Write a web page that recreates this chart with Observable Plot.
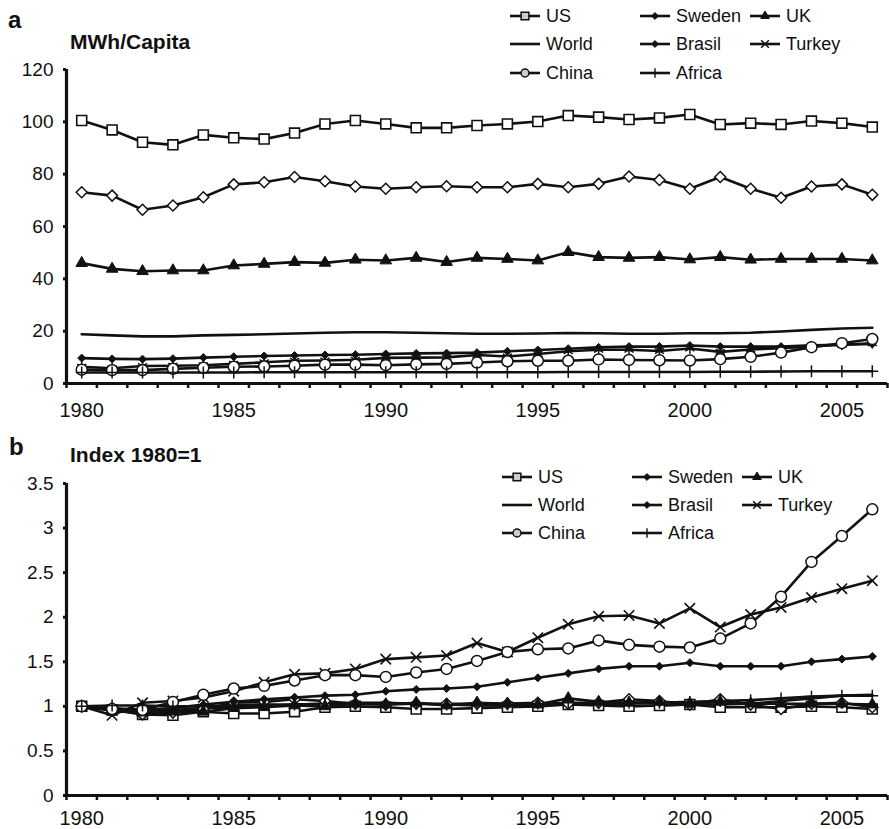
<!DOCTYPE html>
<html><head><meta charset="utf-8">
<script src="https://cdn.jsdelivr.net/npm/d3@7"></script>
<script src="https://cdn.jsdelivr.net/npm/@observablehq/plot@0.6"></script>
<style>
body{margin:0;background:#fff;}
#wrap{position:relative;width:889px;height:829px;overflow:hidden;font-family:"Liberation Sans",Arial,sans-serif;}
#wrap > svg{position:absolute;left:0;}
</style></head><body><div id="wrap"></div>
<script>
// ---------- data ----------
const years = [1980,1981,1982,1983,1984,1985,1986,1987,1988,1989,1990,1991,1992,1993,1994,1995,1996,1997,1998,1999,2000,2001,2002,2003,2004,2005,2006];
const labelYears = [1980,1985,1990,1995,2000,2005];
const seriesNames = ["US","Sweden","UK","World","Brasil","Turkey","China","Africa"];
const yTicksA = [0,20,40,60,80,100,120];
const yTicksB = [0,0.5,1,1.5,2,2.5,3,3.5];

// Panel a: MWh per capita
const usA     = [100.5,96.9,92.2,91.2,95.0,93.9,93.4,95.7,99.2,100.5,99.2,97.7,97.7,98.6,99.2,100.1,102.4,101.8,100.9,101.5,102.8,99.0,99.5,99.0,100.3,99.5,98.0];
const swedenA = [73.1,71.8,66.4,68.0,71.2,76.1,76.9,78.9,77.3,75.3,74.4,75.0,75.4,75.0,75.0,76.3,75.0,76.3,79.1,77.8,74.4,78.9,74.4,71.0,75.3,76.1,72.1];
const ukA     = [46.0,43.8,42.9,43.2,43.2,45.1,45.7,46.4,46.1,47.3,47.0,48.0,46.4,48.0,47.6,47.0,50.2,48.3,48.0,48.3,47.4,48.3,47.3,47.6,47.6,47.6,47.0];
const worldA  = [18.8,18.4,18.0,18.0,18.4,18.6,18.8,19.1,19.4,19.6,19.6,19.4,19.2,19.0,19.0,19.1,19.3,19.2,19.0,19.0,19.2,19.2,19.4,19.9,20.5,21.0,21.3];
const brasilA = [9.7,9.4,9.3,9.5,9.9,10.2,10.5,10.7,10.9,11.0,11.3,11.5,11.6,11.8,12.3,12.8,13.3,13.8,14.1,14.1,14.5,14.1,14.1,14.1,14.6,14.8,15.1];
const turkeyA = [6.4,5.8,6.7,6.8,7.0,7.5,8.1,8.7,8.8,9.1,9.8,9.9,10.0,10.9,10.3,11.3,12.3,12.9,12.9,12.4,13.4,12.1,13.0,13.5,14.2,14.8,15.4];
const chinaA  = [5.3,5.1,5.1,5.6,6.0,6.4,6.5,6.8,7.2,7.2,7.0,7.3,7.5,8.0,8.5,8.7,8.7,9.2,9.0,8.9,8.8,9.3,10.2,11.8,13.9,15.4,17.0];
const africaA = [4.2,4.2,4.2,4.2,4.2,4.2,4.3,4.3,4.3,4.3,4.3,4.3,4.3,4.3,4.3,4.3,4.4,4.4,4.4,4.4,4.4,4.5,4.5,4.6,4.7,4.7,4.7];

// Panel b: index 1980 = 1
const usB     = [1.00,0.96,0.91,0.90,0.94,0.92,0.92,0.94,0.99,1.00,0.99,0.97,0.97,0.98,0.99,1.00,1.02,1.01,1.00,1.01,1.02,0.99,0.99,0.99,1.00,0.99,0.97];
const swedenB = [1.00,0.98,0.91,0.93,0.97,1.04,1.05,1.08,1.06,1.03,1.02,1.03,1.03,1.03,1.03,1.04,1.03,1.04,1.08,1.06,1.02,1.08,1.02,0.97,1.03,1.04,0.99];
const ukB     = [1.00,0.95,0.93,0.94,0.94,0.98,0.99,1.01,1.00,1.03,1.02,1.04,1.01,1.04,1.03,1.02,1.09,1.05,1.04,1.05,1.03,1.05,1.03,1.03,1.03,1.03,1.02];
const worldB  = [1.00,0.98,0.96,0.96,0.98,0.99,1.00,1.02,1.03,1.04,1.04,1.03,1.02,1.01,1.01,1.02,1.03,1.02,1.01,1.01,1.02,1.02,1.03,1.06,1.09,1.12,1.13];
const brasilB = [1.00,0.97,0.96,0.98,1.02,1.05,1.08,1.10,1.12,1.13,1.17,1.19,1.20,1.22,1.27,1.32,1.37,1.42,1.45,1.45,1.49,1.45,1.45,1.45,1.50,1.53,1.56];
const turkeyB = [1.00,0.90,1.04,1.06,1.10,1.17,1.27,1.36,1.37,1.42,1.53,1.55,1.57,1.71,1.61,1.77,1.92,2.01,2.02,1.93,2.10,1.89,2.03,2.11,2.22,2.32,2.41];
const chinaB  = [1.00,0.97,0.96,1.05,1.13,1.20,1.23,1.29,1.35,1.35,1.33,1.38,1.42,1.51,1.61,1.64,1.65,1.74,1.69,1.67,1.66,1.76,1.93,2.23,2.62,2.91,3.21];
const africaB = [1.00,1.01,1.01,1.00,1.00,1.01,1.02,1.02,1.03,1.03,1.03,1.03,1.02,1.02,1.02,1.03,1.04,1.04,1.04,1.04,1.05,1.06,1.07,1.09,1.11,1.12,1.12];

// ---------- styles ----------
const INK = "#111";
const FONT = "'Liberation Sans', Arial, sans-serif";
const styleA = {
  US:{symbol:"square",r:5.6,fill:"white",sw:1.6},
  Sweden:{symbol:"diamond2",r:4.95,fill:"white",sw:1.5},
  UK:{symbol:"triangle",r:4.3,fill:INK,sw:1},
  World:null,
  Brasil:{symbol:"diamond2",r:3.6,fill:INK,sw:1},
  Turkey:{symbol:"asterisk",r:5.0,fill:"none",sw:1.5},
  China:{symbol:"circle",r:5.5,fill:"white",sw:1.5},
  Africa:{symbol:"plus",r:3.9,fill:"none",sw:1.5}
};
const styleB = Object.assign({}, styleA, {Turkey:{symbol:"times",r:4.8,fill:"none",sw:1.6}});

function tidy(arrs){
  const out = [];
  seriesNames.forEach((s,i)=>arrs[i].forEach((v,j)=>out.push({series:s,year:years[j],value:v})));
  return out;
}
const dataA = tidy([usA,swedenA,ukA,worldA,brasilA,turkeyA,chinaA,africaA]);
const dataB = tidy([usB,swedenB,ukB,worldB,brasilB,turkeyB,chinaB,africaB]);

const halfYears = years.map(y=>y-0.5).concat([years[years.length-1]+0.5]);

function panel(data, styles, yTicks, yDomain, height, mt, mb, xPad){
  const marks = [
    Plot.axisY({ticks:yTicks, tickSize:3, tickPadding:10, fontSize:19, strokeWidth:3, label:null, tickFormat:d=>String(d)}),
    Plot.axisX({ticks:halfYears, tickSize:5, strokeWidth:2.5, tickFormat:()=>"" , label:null}),
    Plot.axisX({ticks:labelYears, tickSize:0, tickPadding:xPad, fontSize:20, label:null, tickFormat:d=>String(d)}),
    Plot.ruleX([halfYears[0]], {y1:yDomain[0], y2:yDomain[1], stroke:INK, strokeWidth:3.2}),
    Plot.ruleY([0], {stroke:INK, strokeWidth:3.2}),
    Plot.line(data, {x:"year", y:"value", z:"series", stroke:INK, strokeWidth:2.6})
  ];
  seriesNames.forEach(s=>{
    const st = styles[s];
    if(!st) return;
    marks.push(Plot.dot(data.filter(d=>d.series===s), {x:"year", y:"value", symbol:st.symbol, r:st.r, fill:st.fill, stroke:INK, strokeWidth:st.sw}));
  });
  return Plot.plot({
    width:889, height, marginLeft:66, marginRight:2, marginTop:mt, marginBottom:mb,
    x:{domain:[halfYears[0], halfYears[halfYears.length-1]]},
    y:{domain:yDomain},
    style:{fontFamily:FONT, color:INK, background:"white", overflow:"visible"},
    marks
  });
}

const wrap = document.getElementById("wrap");
const svgA = panel(dataA, styleA, yTicksA, [0,120], 425, 69, 42, 19);
svgA.style.top = "0px";
wrap.appendChild(svgA);
const svgB = panel(dataB, styleB, yTicksB, [0,3.5], 404, 58, 34, 15);
svgB.style.top = "425px";
wrap.appendChild(svgB);

// ---------- overlay: panel letters, units, legends ----------
const ov = d3.select(wrap).append("svg").attr("width",889).attr("height",829)
  .style("top","0px").style("pointer-events","none").style("font-family",FONT);

ov.append("text").attr("x",8).attr("y",28).attr("font-size",24).attr("font-weight","bold").attr("fill",INK).text("a");
ov.append("text").attr("x",70).attr("y",49).attr("font-size",21).attr("font-weight","bold").attr("fill",INK).text("MWh/Capita");
ov.append("text").attr("x",9).attr("y",455).attr("font-size",24).attr("font-weight","bold").attr("fill",INK).text("b");
ov.append("text").attr("x",70).attr("y",462).attr("font-size",21).attr("font-weight","bold").attr("fill",INK).text("Index 1980=1");

const legSym = {
  US:{type:d3.symbolSquare,size:60,fill:"#ccc",sw:1.5},
  Sweden:{type:d3.symbolDiamond2,size:30,fill:INK,sw:1},
  UK:{type:d3.symbolTriangle,size:32,fill:INK,sw:1},
  World:null,
  Brasil:{type:d3.symbolDiamond2,size:30,fill:INK,sw:1},
  Turkey:{type:d3.symbolTimes,size:40,fill:"none",sw:1.5},
  China:{type:d3.symbolCircle,size:50,fill:"#ccc",sw:1.5},
  Africa:{type:d3.symbolPlus,size:30,fill:"none",sw:1.4}
};
function legend(cols, rows){
  seriesNames.forEach((s,i)=>{
    const x0 = cols[i%3], y0 = rows[Math.floor(i/3)];
    const g = ov.append("g").attr("transform",`translate(${x0},${y0})`);
    g.append("line").attr("x1",0).attr("x2",30).attr("stroke",INK).attr("stroke-width",2.6);
    const st = legSym[s];
    if(st) g.append("path").attr("transform","translate(15,0)").attr("d",d3.symbol(st.type,st.size)())
      .attr("fill",st.fill).attr("stroke",INK).attr("stroke-width",st.sw);
    g.append("text").attr("x",36).attr("dy","0.35em").attr("font-size",18).attr("fill",INK).text(s);
  });
}
legend([510,640,750],[16,44,73]);
legend([502,632,742],[477,505,533]);
</script></body></html>
